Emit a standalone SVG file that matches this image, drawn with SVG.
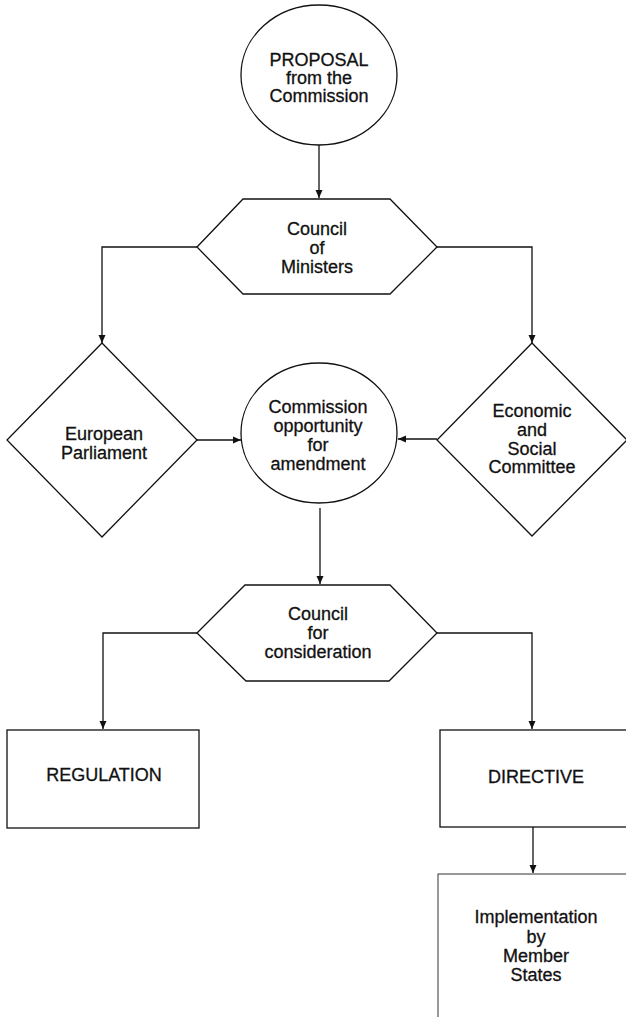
<svg xmlns="http://www.w3.org/2000/svg" width="626" height="1017" viewBox="0 0 626 1017">
<style>
  .shape { fill: #ffffff; stroke: #111111; stroke-width: 1.3; }
  .conn { fill: none; stroke: #111111; stroke-width: 1.3; }
  .lbl { font-family: "Liberation Sans", Arial, Helvetica, sans-serif; font-size: 18px; fill: #111111; stroke: #111111; stroke-width: 0.3; text-anchor: middle; }
</style>
<defs>
  <marker id="arrow" viewBox="0 0 8 8" refX="8" refY="4" markerWidth="8" markerHeight="8" markerUnits="userSpaceOnUse" orient="auto">
    <path d="M0,0.5 L8,4 L0,7.5 z" fill="#111111"/>
  </marker>
</defs>
<rect x="0" y="0" width="626" height="1017" fill="#ffffff"/>

<g id="connectors">
  <path class="conn" d="M319,145 L319,198" marker-end="url(#arrow)"/>
  <path class="conn" d="M197,247 L102,247 L102,343" marker-end="url(#arrow)"/>
  <path class="conn" d="M437,247 L532,247 L532,343" marker-end="url(#arrow)"/>
  <path class="conn" d="M197,440 L241,440" marker-end="url(#arrow)"/>
  <path class="conn" d="M437,439 L398,439" marker-end="url(#arrow)"/>
  <path class="conn" d="M320,508 L320,584" marker-end="url(#arrow)"/>
  <path class="conn" d="M197,633 L103,633 L103,729" marker-end="url(#arrow)"/>
  <path class="conn" d="M437,633 L532,633 L532,729" marker-end="url(#arrow)"/>
  <path class="conn" d="M533,827 L533,873" marker-end="url(#arrow)"/>
</g>

<g id="proposal">
  <ellipse class="shape" cx="319" cy="75" rx="78" ry="70"/>
  <text class="lbl" x="319" y="66">PROPOSAL</text>
  <text class="lbl" x="319" y="84">from the</text>
  <text class="lbl" x="319" y="102">Commission</text>
</g>

<g id="council-ministers">
  <polygon class="shape" points="197,247 243,199 390,199 437,247 390,294 243,294"/>
  <text class="lbl" x="317" y="235">Council</text>
  <text class="lbl" x="317" y="254">of</text>
  <text class="lbl" x="317" y="273">Ministers</text>
</g>

<g id="european-parliament">
  <polygon class="shape" points="102,343 197,440 102,537 7,440"/>
  <text class="lbl" x="104" y="440">European</text>
  <text class="lbl" x="104" y="459">Parliament</text>
</g>

<g id="commission-amendment">
  <ellipse class="shape" cx="319" cy="433" rx="78" ry="70"/>
  <text class="lbl" x="318" y="413">Commission</text>
  <text class="lbl" x="318" y="432">opportunity</text>
  <text class="lbl" x="318" y="451">for</text>
  <text class="lbl" x="318" y="470">amendment</text>
</g>

<g id="economic-social">
  <polygon class="shape" points="532,343 627,440 532,536 437,440"/>
  <text class="lbl" x="532" y="417">Economic</text>
  <text class="lbl" x="532" y="436">and</text>
  <text class="lbl" x="532" y="455">Social</text>
  <text class="lbl" x="532" y="473">Committee</text>
</g>

<g id="council-consideration">
  <polygon class="shape" points="197,633 245,585 390,585 437,633 389,681 246,681"/>
  <text class="lbl" x="318" y="620">Council</text>
  <text class="lbl" x="318" y="639">for</text>
  <text class="lbl" x="318" y="658">consideration</text>
</g>

<g id="regulation">
  <rect class="shape" x="7" y="730" width="192" height="98"/>
  <text class="lbl" x="104" y="781">REGULATION</text>
</g>

<g id="directive">
  <rect class="shape" x="440" y="730" width="200" height="97"/>
  <text class="lbl" x="536" y="783">DIRECTIVE</text>
</g>

<g id="implementation">
  <rect class="shape" x="438" y="874" width="200" height="160" style="stroke:#333333;stroke-width:1"/>
  <text class="lbl" x="536" y="923">Implementation</text>
  <text class="lbl" x="536" y="943">by</text>
  <text class="lbl" x="536" y="962">Member</text>
  <text class="lbl" x="536" y="981">States</text>
</g>
</svg>
